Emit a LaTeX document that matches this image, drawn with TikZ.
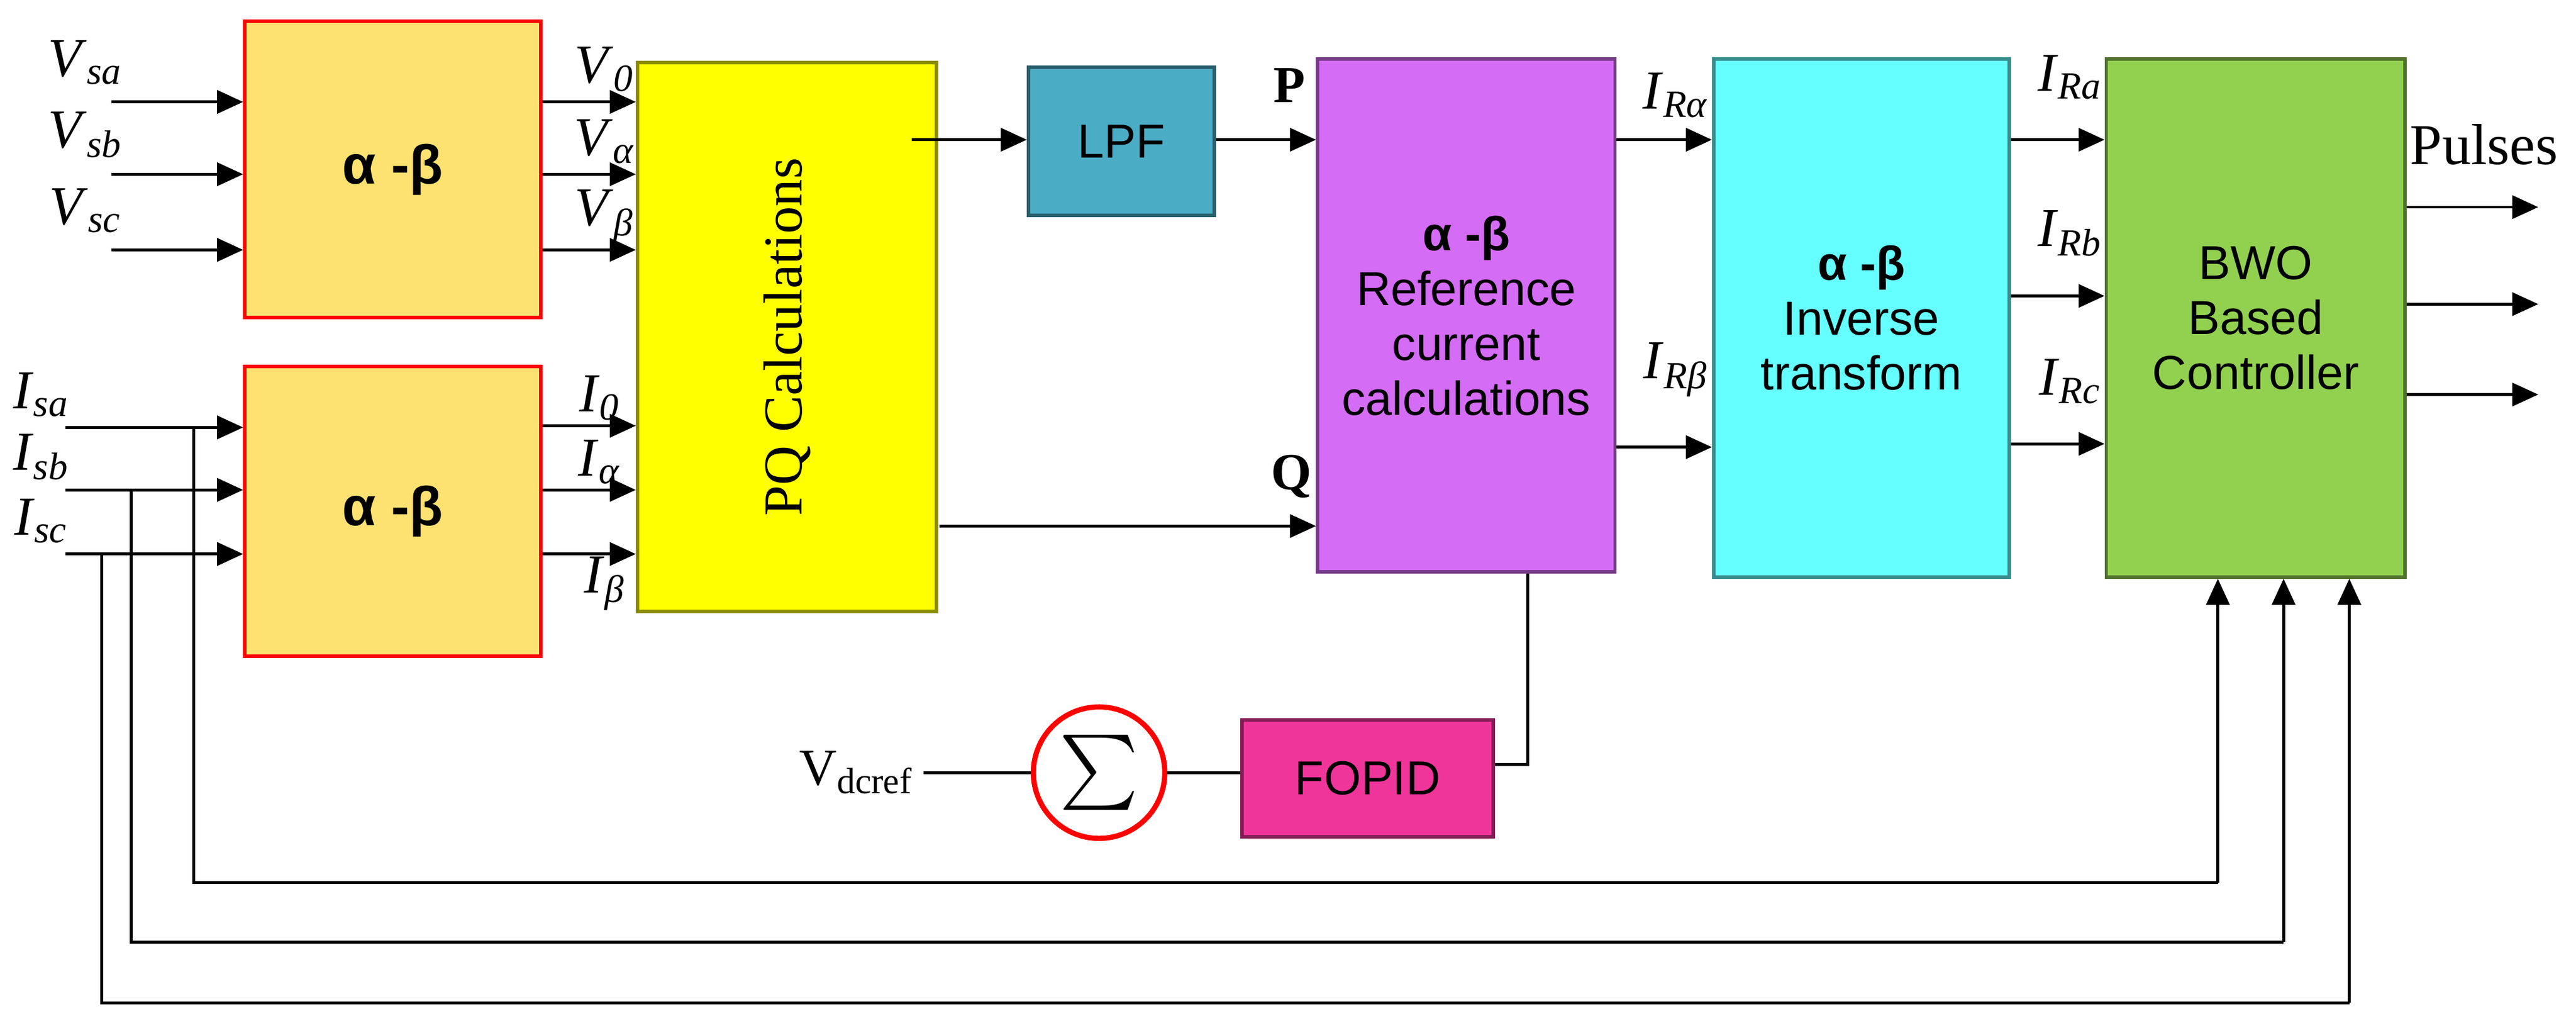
\documentclass[tikz,border=0pt]{standalone}
\usepackage{fontspec}
\setmainfont{Liberation Serif}
\newfontfamily\arialf{Liberation Sans}
\usetikzlibrary{arrows.meta,positioning,calc}
\definecolor{abfill}{HTML}{FDE272}
\definecolor{pqfill}{HTML}{FFFF00}
\definecolor{lpffill}{HTML}{4BACC6}
\definecolor{reffill}{HTML}{D56CF5}
\definecolor{invfill}{HTML}{66FFFF}
\definecolor{bwofill}{HTML}{92D050}
\definecolor{fopfill}{HTML}{F0359A}
\newcommand{\lbl}[2]{\fontsize{19}{21}\selectfont\textit{#1}\textsubscript{\textit{#2}}}
\tikzset{
	blk/.style={draw=#1!55!black,fill=#1,line width=1.2pt,inner sep=0pt,
		font=\arialf\fontsize{16.5}{19}\selectfont,align=center},
	arr/.style={line width=1pt,-{Triangle[length=9pt,width=8pt]}},
	ln/.style={line width=1pt}
}
\begin{document}
\begin{tikzpicture}[x=0.02cm,y=-0.02cm]
	\useasboundingbox (0,0) rectangle (1568,625);

	% boxes
	\node[blk=abfill,draw=red,minimum width=3.6cm,minimum height=3.6cm,anchor=north west,font=\arialf\fontsize{19}{21}\selectfont] (ab1) at (148,12) {\textbf{α -β}};
	\node[blk=abfill,draw=red,minimum width=3.6cm,minimum height=3.52cm,anchor=north west,font=\arialf\fontsize{19}{21}\selectfont] (ab2) at (148,222) {\textbf{α -β}};
	\node[blk=pqfill,minimum width=3.64cm,minimum height=6.68cm,anchor=north west] (pq) at (387,37) {};
	\node[rotate=90,font=\fontsize{19}{21}\selectfont] at (pq.center) {PQ Calculations};
	\node[blk=lpffill,minimum width=2.26cm,minimum height=1.8cm,anchor=north west] (lpf) at (625,40) {LPF};
	\node[blk=reffill,minimum width=3.62cm,minimum height=6.24cm,anchor=north west] (ref) at (801,35) {\textbf{α -β}\\Reference\\current\\calculations};
	\node[blk=invfill,minimum width=3.6cm,minimum height=6.3cm,anchor=north west] (inv) at (1042,35) {\textbf{α -β}\\Inverse\\transform};
	\node[blk=bwofill,minimum width=3.64cm,minimum height=6.3cm,anchor=north west] (bwo) at (1281,35) {BWO\\Based\\Controller};
	\node[blk=fopfill,minimum width=3.06cm,minimum height=1.42cm,anchor=north west] (fop) at (755,437) {FOPID};
	\node[circle,draw=red,line width=1.8pt,minimum size=1.6cm,inner sep=0pt] (sum) at (669,470) {\scalebox{2.6}{$\sum$}};
	\node[anchor=east,font=\fontsize{18}{20}\selectfont] (vdc) at (562,470) {V\textsubscript{dcref}};

	% voltage inputs and outputs
	\foreach \y/\n in {62/a,106/b,152/c}{
		\coordinate (vin\n) at (68,\y);
		\draw[arr] (vin\n) -- (ab1.west |- vin\n);
		\node at (52,\y-24) {\lbl{V}{s\n}};
	}
	\foreach \y/\s in {62/0,106/α,152/β}{
		\draw[arr] (ab1.east |- 0,\y) -- (pq.west |- 0,\y);
		\node at (368,\y-20) {\lbl{V}{\s}};
	}
	% current inputs
	\foreach \y/\n/\bx/\by/\sx in {260/a/118/537/1350,298/b/80/573/1390,337/c/62/610/1430}{
		\coordinate (iin\n) at (40,\y);
		\coordinate (ib\n) at (\bx,\y);
		\coordinate (ic\n) at (\bx,\by);
		\coordinate (id\n) at (\sx,\by);
		\draw[arr] (iin\n) -- (ab2.west |- iin\n);
		\node at (25,\y-20) {\lbl{I}{s\n}};
		\draw[ln] (ib\n) -- (ic\n) -- (id\n);
		\draw[arr] (id\n) -- (bwo.south -| id\n);
	}
	\foreach \y in {259,298,337}{
		\draw[arr] (ab2.east |- 0,\y) -- (pq.west |- 0,\y);
	}
	\node at (365,242) {\lbl{I}{0}};
	\node at (365,281) {\lbl{I}{α}};
	\node at (368,355) {\lbl{I}{β}};

	% PQ to reference
	\draw[arr] (555,85) -- (lpf.west |- 0,85);
	\draw[arr] (lpf.east |- 0,85) -- (ref.west |- 0,85);
	\node[font=\bfseries\fontsize{18}{20}\selectfont] at (785,52) {P};
	\draw[arr] (572,320) -- (ref.west |- 0,320);
	\node[font=\bfseries\fontsize{18}{20}\selectfont] at (786,290) {Q};

	% reference to inverse
	\draw[arr] (ref.east |- 0,85) -- (inv.west |- 0,85);
	\draw[arr] (ref.east |- 0,272) -- (inv.west |- 0,272);
	\node at (1020,58) {\lbl{I}{Rα}};
	\node at (1020,225) {\lbl{I}{Rβ}};

	% inverse to controller
	\foreach \y/\n in {85/a,180/b,270/c}{
		\draw[arr] (inv.east |- 0,\y) -- (bwo.west |- 0,\y);
		\node at (1260,\y-38) {\lbl{I}{R\n}};
	}
	\foreach \y in {126,185,240}{
		\draw[arr] (bwo.east |- 0,\y) -- (1545,\y);
	}
	\node[font=\fontsize{20}{22}\selectfont] at (1512,88) {Pulses};

	% dc loop
	\coordinate (rb) at (930,465);
	\draw[ln] (ref.south -| rb) -- (rb) -- (fop.east |- rb);
	\draw[ln] (fop.west |- sum) -- (sum.east);
	\draw[ln] (vdc.east) -- (sum.west);
\end{tikzpicture}
\end{document}
